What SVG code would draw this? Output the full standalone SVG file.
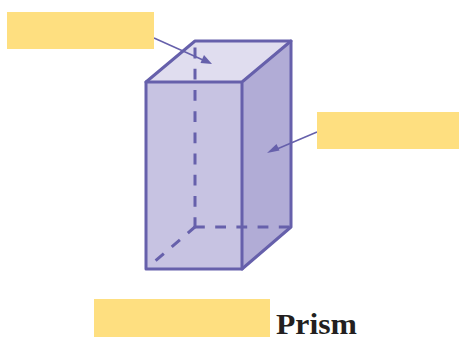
<svg xmlns="http://www.w3.org/2000/svg" width="459" height="337" viewBox="0 0 459 337">
<style>
.label{fill:#fedf80}
.edge{fill:none;stroke:#6660ab;stroke-width:3;stroke-linejoin:round;stroke-linecap:round}
.dash{fill:none;stroke:#6660ab;stroke-width:3;stroke-dasharray:10.800 10.400}
.lead{fill:none;stroke:#6660ab;stroke-width:1.500}
.head{fill:#6660ab}
.title{font-family:"Liberation Serif",serif;font-weight:700;font-size:30px;fill:#231f20}
</style>
<rect width="459" height="337" fill="#fff"/>
<g id="prism">
<polygon points="146,82 195,41 291,41 242,82" fill="#e0ddef"/>
<rect x="146" y="82" width="96" height="187" fill="#c7c3e2"/>
<polygon points="242,82 291,41 291,227 242,269" fill="#b1acd6"/>
<path class="dash" d="M195,228V47"/>
<path class="dash" d="M194,227H291"/>
<path class="dash" d="M196,226L154,262"/>
<path class="edge" d="M146,82L195,41H291V227L242,269H146Z"/>
<path class="edge" d="M146,82H242V269M242,82L291,41"/>
</g>
<g id="connectors">
<path class="lead" d="M154,38L203,60"/>
<polygon class="head" points="212,64 200.500,63 204,55"/>
<path class="lead" d="M317,132L277,149"/>
<polygon class="head" points="267,153 276.500,144 279.500,150.500"/>
</g>
<g id="label-top"><rect class="label" x="7" y="12" width="147" height="37"/></g>
<g id="label-right"><rect class="label" x="317" y="112" width="142" height="37"/></g>
<g id="label-bottom"><rect class="label" x="94" y="299" width="176" height="38"/></g>
<g id="title"><text class="title" x="276" y="334" textLength="81" lengthAdjust="spacingAndGlyphs">Prism</text></g>
</svg>
